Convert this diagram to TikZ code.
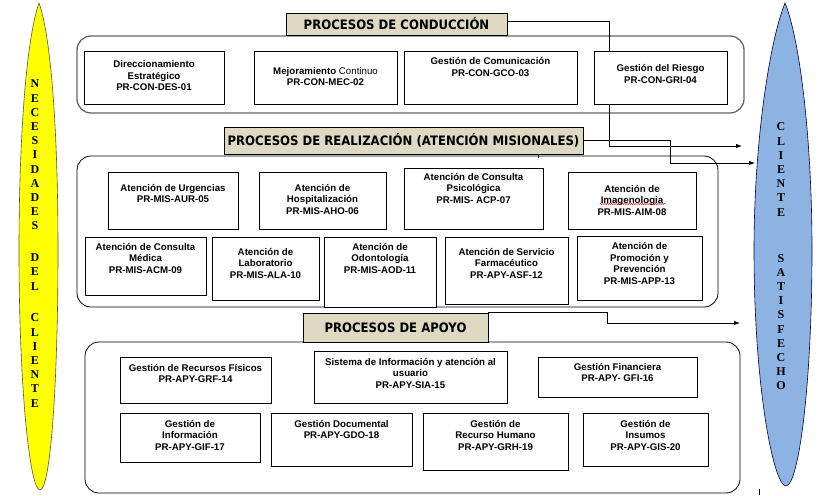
\documentclass[tikz,border=0pt]{standalone}
\usepackage{fontspec}
\setmainfont{Liberation Sans}
\newfontfamily\hdrfont[FakeStretch=0.9]{DejaVu Sans}
\newfontfamily\serfont{Liberation Serif}
\usetikzlibrary{arrows.meta,decorations.pathmorphing}
\definecolor{hdrfill}{RGB}{221,217,195}
\definecolor{ovalY}{RGB}{255,255,0}
\definecolor{ovalB}{RGB}{141,179,226}
\tikzset{
  pbox/.style={draw, line width=0.8pt, fill=white, inner sep=0pt},
  ptxt/.style={align=center, inner sep=0pt, font=\bfseries\fontsize{9.7}{11.5}\selectfont},
  hdr/.style={draw, line width=0.9pt, fill=hdrfill, inner sep=0pt,
    font=\hdrfont\bfseries\fontsize{13}{15}\selectfont},
  grp/.style={draw, line width=0.8pt, rounded corners=14pt, inner sep=0pt},
  conn/.style={draw, line width=0.8pt, -{Latex[length=6pt,width=4.5pt]}},
  ovl/.style={align=center, inner sep=0pt, font=\serfont\bfseries\fontsize{12}{14.2}\selectfont}
}
% name, x1, y1, x2, y2, text centre y, text
\newcommand\pbx[7]{%
  \node[pbox, minimum width={(#4-#2)*1pt}, minimum height={(#5-#3)*1pt}] (#1) at ({(#2+#4)/2},{(#3+#5)/2}) {};
  \node[ptxt] (#1t) at ({(#2+#4)/2},#6) {#7};}
\newcommand\hbx[6]{%
  \node[hdr, minimum width={(#4-#2)*1pt}, minimum height={(#5-#3)*1pt}] (#1) at ({(#2+#4)/2},{(#3+#5)/2}) {#6};}
\newcommand\gbx[6]{%
  \node[grp, #6, minimum width={(#4-#2)*1pt}, minimum height={(#5-#3)*1pt}] (#1) at ({(#2+#4)/2},{(#3+#5)/2}) {};}
\begin{document}
\begin{tikzpicture}[x=1pt,y=-1pt]
\useasboundingbox (0,0) rectangle (826,495);
\fill[white] (0,0) rectangle (826,495);

% side ovals
\draw[fill=ovalY, draw=black!75!yellow, line width=0.6pt]
  (39,3) .. controls (52,40) and (58,140) .. (58,250)
  .. controls (58,390) and (50,490) .. (40,490)
  .. controls (30,490) and (19,390) .. (19,250)
  .. controls (19,140) and (26,40) .. (39,3) -- cycle;
\draw[fill=ovalB, draw=blue!25!black, line width=0.6pt]
  (785,3) .. controls (800,40) and (812,140) .. (812,250)
  .. controls (812,390) and (798,486) .. (786,486)
  .. controls (774,486) and (754,390) .. (754,250)
  .. controls (754,140) and (770,40) .. (785,3) -- cycle;

\node[ovl] (lnec) at (35,155) {N\\E\\C\\E\\S\\I\\D\\A\\D\\E\\S};
\node[ovl] (ldel) at (35,272) {D\\E\\L};
\node[ovl] (lcli) at (35,360.5) {C\\L\\I\\E\\N\\T\\E};
\node[ovl] (rcli) at (781,169.5) {C\\L\\I\\E\\N\\T\\E};
\node[ovl] (rsat) at (781,322) {S\\A\\T\\I\\S\\F\\E\\C\\H\\O};

% groups
\gbx{g1}{77}{36}{744}{113}{draw=black!60, line width=1.3pt}
\gbx{g2}{77}{156}{718}{307}{}
\gbx{g3}{85}{342}{740}{493}{}

% connectors (free ends)
\coordinate (bC) at (609,146);
\coordinate (aC) at (742,146);
\coordinate (bR) at (670,163);
\coordinate (aR) at (755,163);
\coordinate (bA) at (607,323);
\coordinate (aA) at (740,323);

\hbx{hC}{286}{13}{507}{35}{PROCESOS DE CONDUCCIÓN}
\hbx{hR}{224}{127}{583}{154}{PROCESOS DE REALIZACIÓN (ATENCIÓN MISIONALES)}
\hbx{hA}{303}{313}{488}{342}{PROCESOS DE APOYO}

\draw[conn] ([yshift=3pt]hC.east) -| (bC) -- (aC);
\draw[conn] (hR.east) -| (bR) -- (aR);
\draw[conn] (hA.north east) -| (bA) -- (aA);
\draw[line width=0.6pt] (538,154) -- (538,158);

% conduccion
\pbx{p01}{84}{51}{224}{104}{76}{Direccionamiento\\Estratégico\\PR-CON-DES-01}
\pbx{p02}{254}{51}{397}{104}{76.5}{Mejoramiento {\mdseries Continuo}\\PR-CON-MEC-02}
\pbx{p03}{404}{51}{577}{104}{67}{Gestión de Comunicación\\PR-CON-GCO-03}
\pbx{p04}{594}{51}{727}{104}{74}{Gestión del Riesgo\\PR-CON-GRI-04}

% realizacion
\pbx{p05}{108}{172}{238}{229}{193.5}{Atención de Urgencias\\PR-MIS-AUR-05}
\pbx{p06}{259}{172}{386}{229}{199}{Atención de\\Hospitalización\\PR-MIS-AHO-06}
\pbx{p07}{404}{168}{543}{229}{188}{Atención de Consulta\\Psicológica\\PR-MIS- ACP-07}
\pbx{p08}{568}{172}{696}{229}{200}{Atención de\\Imagenologia\\PR-MIS-AIM-08}
\draw[red, line width=0.4pt, decorate, decoration={snake, amplitude=0.6pt, segment length=2.2pt}] (600,204) -- (666,204);
\pbx{p09}{85}{237}{206}{295}{258}{Atención de Consulta\\Médica\\PR-MIS-ACM-09}
\pbx{p10}{212}{237}{319}{300}{263}{Atención de\\Laboratorio\\PR-MIS-ALA-10}
\pbx{p11}{324}{237}{436}{307}{258}{Atención de\\Odontología\\PR-MIS-AOD-11}
\pbx{p12}{445}{237}{568}{304}{263}{Atención de Servicio\\Farmacéutico\\PR-APY-ASF-12}
\pbx{p13}{577}{236}{702}{300}{263.5}{Atención de\\Promoción y\\Prevención\\PR-MIS-APP-13}

% apoyo
\pbx{p14}{120}{357}{271}{403}{373.5}{Gestión de Recursos Físicos\\PR-APY-GRF-14}
\pbx{p15}{314}{351}{507}{403}{373}{Sistema de Información y atención al\\usuario\\PR-APY-SIA-15}
\pbx{p16}{538}{357}{697}{397}{372.5}{Gestión Financiera\\PR-APY- GFI-16}
\pbx{p17}{120}{413}{260}{462}{435}{Gestión de\\Información\\PR-APY-GIF-17}
\pbx{p18}{271}{413}{412}{466}{429.5}{Gestión Documental\\PR-APY-GDO-18}
\pbx{p19}{423}{413}{568}{470}{435}{Gestión de\\Recurso Humano\\PR-APY-GRH-19}
\pbx{p20}{583}{413}{708}{466}{435}{Gestión de\\Insumos\\PR-APY-GIS-20}

\draw[line width=0.8pt] (759,489) -- (759,495);
\end{tikzpicture}
\end{document}
